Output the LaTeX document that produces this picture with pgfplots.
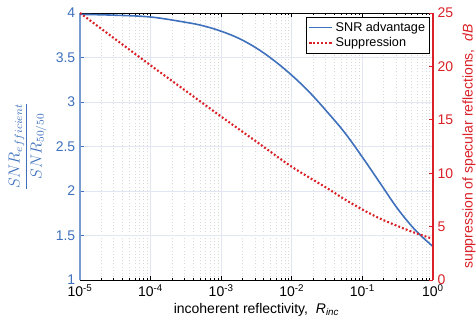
\documentclass[border=0pt]{standalone}
\usepackage{pgfplots}
\pgfplotsset{compat=1.18}
\usepackage{amsmath}
\usepackage{fontspec}
\setmainfont{Liberation Sans}
\definecolor{cblue}{RGB}{62,112,188}
\definecolor{cred}{RGB}{218,32,40}
\definecolor{gridc}{RGB}{226,229,242}

\pgfplotstableread{
x        v
1e-5     3.985
3.162e-5 3.975
1e-4     3.955
3.162e-4 3.895
5.623e-4 3.855
1e-3     3.795
1.778e-3 3.715
3.162e-3 3.605
5.623e-3 3.465
1e-2     3.30
1.778e-2 3.11
3.162e-2 2.89
5.623e-2 2.655
1e-1     2.38
0.1778   2.09
0.3162   1.80
0.5623   1.56
1        1.376
}\snr

\pgfplotstableread{
x        v
1e-5     25.0
3.162e-5 22.55
1e-4     20.1
3.162e-4 17.7
1e-3     15.3
3.162e-3 12.95
1e-2     10.6
3.162e-2 8.6
5.623e-2 7.55
1e-1     6.6
0.1778   5.75
0.3162   5.05
0.5623   4.4
1        3.85
}\supp

\begin{document}
\begin{tikzpicture}
\begin{axis}[name=main,
  scale only axis, width=264.75pt, height=200.25pt,
  xmode=log, xmin=1e-5, xmax=1, ymin=1, ymax=4,
  axis x line*=box, axis y line*=left,
  xtick={1e-5,1e-4,1e-3,1e-2,1e-1,1},
  xticklabels={10\textsuperscript{-5},10\textsuperscript{-4},10\textsuperscript{-3},10\textsuperscript{-2},10\textsuperscript{-1},10\textsuperscript{0}},
  ytick={1,1.5,2,2.5,3,3.5,4},
  /pgf/number format/assume math mode=true,
  tick align=inside,
  major tick length=3pt, minor tick length=1.8pt,
  x axis line style={black, line width=0.6pt},
  y axis line style={cblue!70, line width=1.2pt},
  xtick style={black, line width=0.5pt},
  ytick style={cblue, line width=0.5pt},
  y tick label style={cblue},
  tick label style={font=\fontsize{10.5}{12}\selectfont},
  xmajorgrids, xminorgrids, ymajorgrids,
  major grid style={gridc, line width=0.5pt},
  minor grid style={gray!30, dotted, line width=0.5pt},
  xlabel={incoherent reflectivity,\ \ \textit{R\textsubscript{inc}}},
  xlabel style={font=\fontsize{10.5}{12}\selectfont, yshift=2pt},
  ylabel={$\dfrac{SNR_{efficient}}{SNR_{50/50}}$},
  ylabel style={cblue, font=\fontsize{12}{14}\selectfont},
]
\addplot[cblue, line width=1.2pt, smooth, tension=0.6] table[x=x,y=v] {\snr};
\end{axis}
\begin{axis}[
  scale only axis, width=264.75pt, height=200.25pt,
  xmode=log, xmin=1e-5, xmax=1, ymin=0, ymax=25,
  axis x line=none, axis y line*=right,
  ytick={0,5,10,15,20,25},
  /pgf/number format/assume math mode=true,
  tick align=inside,
  major tick length=3pt,
  y axis line style={cred, line width=1.2pt},
  ytick style={cred, line width=0.5pt},
  y tick label style={cred},
  tick label style={font=\fontsize{10.5}{12}\selectfont},
  ylabel={suppression of specular reflections,\ \ \textit{dB}},
  ylabel style={cred, font=\fontsize{10.5}{12}\selectfont},
  legend style={at={(0.992,0.985)}, anchor=north east, draw=black,
    font=\fontsize{9.5}{11}\selectfont, inner sep=1.5pt, row sep=-1pt,
    line width=0.6pt},
  legend cell align=left,
]
\addlegendimage{cblue, line width=1pt}
\addlegendentry{SNR advantage}
\addplot[cred, line width=1.6pt, dash pattern=on 1.4pt off 1.6pt, smooth] table[x=x,y=v] {\supp};
\addlegendentry{Suppression}
\end{axis}
\pgfresetboundingbox
\path ([xshift=-60pt,yshift=-41.25pt]main.south west) rectangle ([xshift=32.25pt,yshift=9.75pt]main.north east);
\end{tikzpicture}
\end{document}
